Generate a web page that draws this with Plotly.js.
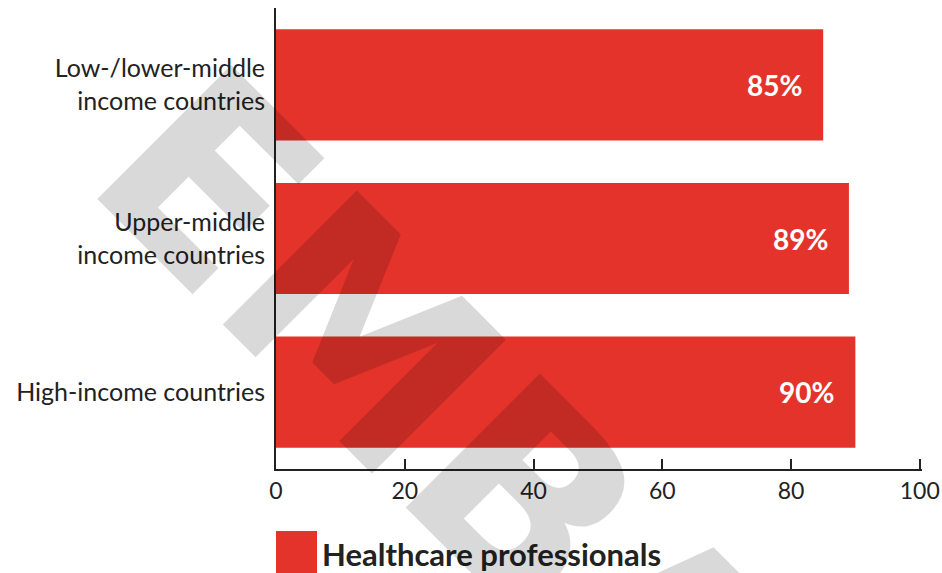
<!DOCTYPE html>
<html>
<head>
<meta charset="utf-8">
<script src="https://cdn.plot.ly/plotly-3.0.1.min.js"></script>
<style>html,body{margin:0;padding:0;background:#fff;}#chart{width:942px;height:573px;}</style>
</head>
<body>
<div id="chart"></div>
<script>
const categories = ["Low-/lower-middle<br>income countries", "Upper-middle<br>income countries", "High-income countries"];
const values = [85, 89, 90];
const valueLabels = ["85%", "89%", "90%"];
const seriesName = "Healthcare professionals";
const xTicks = [0, 20, 40, 60, 80, 100];
const watermark = "EMBARGO";

const RED = "#e4332a";
const INK = "#222222";

const trace = {
  type: "bar",
  orientation: "h",
  x: values,
  y: categories,
  name: seriesName,
  marker: {color: RED},
  hoverinfo: "none",
  showlegend: false
};

const annotations = values.map((v, i) => ({
  x: v, y: categories[i], xref: "x", yref: "y",
  text: valueLabels[i], showarrow: false,
  xanchor: "right", yanchor: "middle", xshift: -19,
  font: {family: "Lato, 'Open Sans', sans-serif", size: 28, color: "#ffffff", weight: 700}
}));

annotations.push({
  xref: "paper", yref: "paper", x: 0.068, y: -0.184,
  xanchor: "left", yanchor: "middle", showarrow: false,
  text: "<b>" + seriesName + "</b>",
  font: {family: "Lato, 'Open Sans', sans-serif", size: 31, color: INK}
});

annotations.push({
  xref: "paper", yref: "paper", x: 0.600, y: -0.366,
  xanchor: "center", yanchor: "middle", showarrow: false,
  text: "<b>" + watermark + "</b>", textangle: 45,
  font: {family: "'DejaVu Sans', sans-serif", size: 260, color: "rgba(0,0,0,0.15)"}
});

const layout = {
  width: 942, height: 573,
  margin: {l: 276, r: 20, t: 8, b: 104, pad: 0},
  paper_bgcolor: "#ffffff", plot_bgcolor: "#ffffff",
  showlegend: false,
  bargap: 0.277,
  xaxis: {
    range: [0, 100.35], tickvals: xTicks, ticktext: xTicks.map(String),
    showgrid: false, zeroline: false,
    showline: true, linecolor: INK, linewidth: 2,
    ticks: "inside", ticklen: 10, tickwidth: 2, tickcolor: INK,
    ticklabeloverflow: "allow",
    tickfont: {family: "Lato, 'Open Sans', sans-serif", size: 23, color: INK},
    fixedrange: true
  },
  yaxis: {
    type: "category", categoryorder: "array", categoryarray: categories,
    range: [2.5, -0.5],
    showgrid: false, zeroline: false,
    showline: true, linecolor: INK, linewidth: 2,
    ticks: "", ticklabelstandoff: 4,
    tickfont: {family: "Lato, 'Open Sans', sans-serif", size: 25, color: INK},
    fixedrange: true
  },
  shapes: [{
    type: "rect", xref: "paper", yref: "paper",
    x0: 0, x1: 0.0635, y0: -0.1345, y1: -0.26,
    fillcolor: RED, line: {width: 0}, layer: "above"
  }],
  annotations: annotations
};

Plotly.newPlot("chart", [trace], layout, {displayModeBar: false, staticPlot: true});
</script>
</body>
</html>
